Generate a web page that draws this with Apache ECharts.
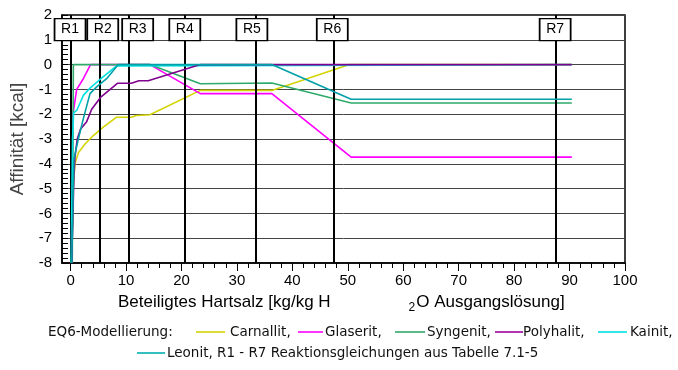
<!DOCTYPE html>
<html>
<head>
<meta charset="utf-8">
<script src="https://cdn.jsdelivr.net/npm/echarts@6/dist/echarts.min.js"></script>
<style>html,body{margin:0;padding:0;background:#fff}#c{width:678px;height:370px}</style>
</head>
<body>
<div id="c"></div>
<script>
// ---- data ----
const carnallit = [[0.15,-8],[0.5,-4.9],[0.8,-4.0],[1.4,-3.55],[2.6,-3.2],[4.1,-2.86],[5.9,-2.52],[8.3,-2.12],[11.0,-2.12],[11.8,-2.05],[14.3,-2.02],[23.4,-1.04],[36.3,-1.04],[50.3,0],[90.4,0]];
const glaserit = [[0.1,-8],[0.4,-2.0],[0.6,-1.75],[0.9,-1.75],[1.1,-1.0],[2.3,-0.57],[3.6,0],[14.3,0],[23.4,-1.17],[36.3,-1.17],[50.6,-3.73],[90.4,-3.73]];
const syngenit = [[0.3,-8],[0.5,0],[14.3,0],[23.4,-0.77],[36.3,-0.74],[50.6,-1.55],[90.4,-1.55]];
const polyhalit = [[0.2,-8],[0.6,-4.5],[0.8,-3.7],[1.2,-3.0],[1.8,-2.6],[2.9,-2.3],[3.8,-1.8],[5.5,-1.3],[8.5,-0.75],[11.0,-0.75],[12.3,-0.65],[14.0,-0.65],[23.4,0],[90.4,0]];
const kainit = [[0.1,-8],[0.35,-3.0],[0.55,-1.95],[0.8,-2.0],[1.1,-1.85],[1.7,-1.55],[2.3,-1.24],[3.5,-0.95],[5.3,-0.6],[8.3,-0.05],[8.6,0],[90.4,0]];
const leonit = [[0.2,-8],[0.6,-3.8],[1.4,-3.0],[2.3,-2.18],[3.5,-1.17],[4.7,-0.9],[6.5,-0.57],[8.6,0],[36.3,0],[50.6,-1.4],[90.4,-1.4]];
const rNames = ['R1','R2','R3','R4','R5','R6','R7'];
const rX = [0.0, 5.2, 10.5, 20.6, 33.4, 47.5, 87.5];
const rBoxX = [-0.1, 5.8, 12.1, 20.6, 32.7, 47.2, 87.4];
const rBoxY = 1.41;
const xTicksMajor = [0,10,20,30,40,50,60,70,80,90,100];
const xTicksMinor = [0,2,4,6,8,10,12,14,16,18,20,22,24,26,28,30,32,34,36,38,40,42,44,46,48,50,52,54,56,58,60,62,64,66,68,70,72,74,76,78,80,82,84,86,88,90,92,94,96,98,100];

const FONT = '"Liberation Sans", Arial, sans-serif';
const LFONT = '"DejaVu Sans", sans-serif';
const chart = echarts.init(document.getElementById('c'));

function lineSeries(name, data, color, z) {
  return { name, type: 'line', data, showSymbol: false, symbol: 'none', z,
    lineStyle: { color, width: 1.6 }, itemStyle: { color }, animation: false };
}

const legendY1 = 332, legendY2 = 353;
function legLine(x1, x2, y, color) {
  return { type: 'line', shape: { x1, y1: y, x2, y2: y }, style: { stroke: color, lineWidth: 1.6 }, silent: true };
}
function legText(x, y, text) {
  return { type: 'text', x, y, style: { text, font: '13.5px ' + LFONT, fill: '#111', textVerticalAlign: 'middle', textAlign: 'left' }, silent: true };
}

chart.setOption({
  animation: false,
  grid: { left: 62, right: 53, top: 15, bottom: 107, show: true, borderColor: '#000', borderWidth: 1.5, backgroundColor: 'transparent' },
  xAxis: [
    { type: 'value', min: -1.55, max: 100, position: 'bottom',
      axisLine: { show: true, onZero: false, lineStyle: { color: '#000', width: 1.5 } },
      axisTick: { show: true, length: 5, customValues: xTicksMinor, lineStyle: { color: '#000' } },
      axisLabel: { show: false }, splitLine: { show: false } },
    { type: 'value', min: -1.55, max: 100, position: 'bottom',
      axisLine: { show: false, onZero: false },
      axisTick: { show: true, length: 8, customValues: xTicksMajor, lineStyle: { color: '#000' } },
      axisLabel: { show: true, customValues: xTicksMajor, fontSize: 15, fontFamily: FONT, color: '#000', margin: 10 },
      splitLine: { show: false } }
  ],
  yAxis: { type: 'value', min: -8, max: 2, interval: 1,
    name: 'Affinität [kcal]', nameLocation: 'middle', nameGap: 30,
    nameTextStyle: { fontSize: 19, fontFamily: FONT, color: '#444' },
    axisLine: { show: true, onZero: false, lineStyle: { color: '#000', width: 1.5 } },
    axisTick: { show: true, inside: true, length: 6, lineStyle: { color: '#000' } },
    minorTick: { show: true, splitNumber: 5, length: 6, lineStyle: { color: '#000' } },
    axisLabel: { fontSize: 15, fontFamily: FONT, color: '#000', margin: 10 },
    splitLine: { show: true, lineStyle: { color: '#444', width: 1 } } },
  series: [
    { type: 'line', data: [], z: 1, silent: true,
      markLine: { silent: true, symbol: 'none', animation: false, label: { show: false },
        lineStyle: { color: '#000', width: 2, type: 'solid' },
        data: rX.map(v => ({ xAxis: v })) } },
    lineSeries('Carnallit', carnallit, '#d4d400', 2),
    lineSeries('Glaserit', glaserit, '#ff00ff', 3),
    lineSeries('Syngenit', syngenit, '#2eaa6a', 4),
    lineSeries('Kainit', kainit, '#00e0e0', 5),
    lineSeries('Polyhalit', polyhalit, '#800090', 6),
    lineSeries('Leonit', leonit, '#00a0a8', 7),
    { type: 'scatter', z: 10, silent: true,
      data: rNames.map((n, i) => ({ name: n, value: [rBoxX[i], rBoxY] })),
      symbol: 'rect', symbolSize: [31, 22],
      itemStyle: { color: '#fff', borderColor: '#000', borderWidth: 1.5, opacity: 1 },
      label: { show: true, position: 'inside', formatter: p => p.name, fontSize: 14, fontFamily: FONT, color: '#000' } }
  ],
  graphic: [
    { type: 'text', x: 118, y: 302,
      style: { text: '{a|Beteiligtes Hartsalz [kg/kg H}{g| }{s|2}{a|O Ausgangslösung]}',
        rich: { a: { fontSize: 17, fontFamily: FONT, fill: '#000', verticalAlign: 'middle' },
                g: { width: 78, fontSize: 17 },
                s: { fontSize: 12, fontFamily: FONT, fill: '#000', padding: [11, 1, 0, 0] } },
        textVerticalAlign: 'middle' }, silent: true },
    legText(48, legendY1, 'EQ6-Modellierung:'),
    legLine(196, 225, legendY1, '#d4d400'), legText(230, legendY1, 'Carnallit,'),
    legLine(298, 323, legendY1, '#ff00ff'), legText(325, legendY1, 'Glaserit,'),
    legLine(395, 425, legendY1, '#2eaa6a'), legText(427, legendY1, 'Syngenit,'),
    legLine(495, 523, legendY1, '#a000a0'), legText(523, legendY1, 'Polyhalit,'),
    legLine(598, 627, legendY1, '#00e0e0'), legText(630, legendY1, 'Kainit,'),
    legLine(137, 165, legendY2, '#00b0b0'), legText(167, legendY2, 'Leonit, R1 - R7 Reaktionsgleichungen aus Tabelle 7.1-5')
  ]
});
</script>
</body>
</html>
